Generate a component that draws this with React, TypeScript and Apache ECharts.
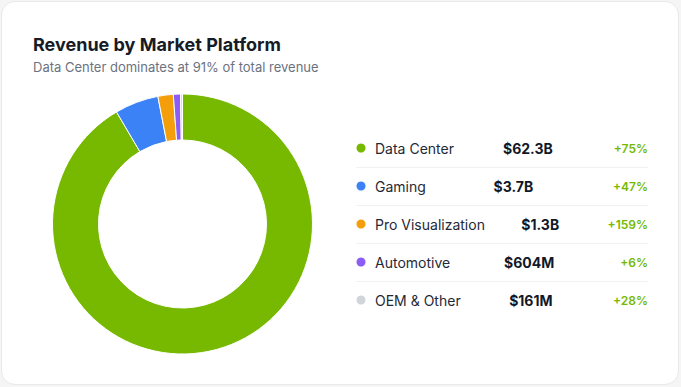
import React, { useEffect, useRef } from "react";
import * as echarts from "echarts";

const categories = ["Data Center", "Gaming", "Pro Visualization", "Automotive", "OEM & Other"];
const revenueB = [62.3, 3.7, 1.3, 0.604, 0.161];
const revenueLabels = ["$62.3B", "$3.7B", "$1.3B", "$604M", "$161M"];
const growthLabels = ["+75%", "+47%", "+159%", "+6%", "+28%"];
const sliceColors = ["#76b900", "#3b82f6", "#f59e0b", "#8b5cf6", "#d1d5db"];

const TITLE = "Revenue by Market Platform";
const SUBTITLE = "Data Center dominates at 91% of total revenue";
const FONT = "Inter, 'Noto Sans', sans-serif";

function measure(text: string, font: string): number {
  const c = document.createElement("canvas");
  const ctx = c.getContext("2d");
  if (!ctx) return text.length * 7;
  ctx.font = font;
  return ctx.measureText(text).width;
}

export default function App() {
  const ref = useRef<HTMLDivElement>(null);

  useEffect(() => {
    document.body.style.margin = "0";
    if (!ref.current) return;
    const chart = echarts.init(ref.current, undefined, { renderer: "svg" });

    const rowX0 = 356;
    const rowX1 = 648;
    const rowY0 = 148;
    const rowStep = 38;
    const labelX = 375;

    const graphics: any[] = [
      {
        type: "text",
        x: 33,
        y: 44,
        style: {
          text: TITLE,
          fontFamily: FONT,
          fontSize: 18,
          fontWeight: 700,
          fill: "#161b26",
          textAlign: "left",
          textVerticalAlign: "middle",
        },
      },
      {
        type: "text",
        x: 33,
        y: 66.5,
        style: {
          text: SUBTITLE,
          fontFamily: FONT,
          fontSize: 13,
          fill: "#6b7280",
          textAlign: "left",
          textVerticalAlign: "middle",
        },
      },
    ];

    categories.forEach((name, i) => {
      const y = rowY0 + i * rowStep;
      const labelW = measure(name, `400 14px ${FONT}`);
      const pctW = measure(growthLabels[i], `600 12px ${FONT}`);
      const labelEnd = labelX + labelW;
      const pctStart = rowX1 - pctW;
      const valueCenter = (labelEnd + pctStart) / 2 - 6;
      graphics.push(
        {
          type: "circle",
          shape: { cx: 361, cy: y, r: 4.5 },
          style: { fill: sliceColors[i] },
        },
        {
          type: "text",
          x: labelX,
          y,
          style: {
            text: name,
            fontFamily: FONT,
            fontSize: 14,
            fill: "#1f2937",
            textAlign: "left",
            textVerticalAlign: "middle",
          },
        },
        {
          type: "text",
          x: valueCenter,
          y,
          style: {
            text: revenueLabels[i],
            fontFamily: FONT,
            fontSize: 14,
            fontWeight: 700,
            fill: "#111827",
            textAlign: "center",
            textVerticalAlign: "middle",
          },
        },
        {
          type: "text",
          x: rowX1,
          y,
          style: {
            text: growthLabels[i],
            fontFamily: FONT,
            fontSize: 12,
            fontWeight: 600,
            fill: "#76b900",
            textAlign: "right",
            textVerticalAlign: "middle",
          },
        }
      );
      if (i < categories.length - 1) {
        graphics.push({
          type: "line",
          shape: { x1: rowX0, y1: y + 19.5, x2: rowX1, y2: y + 19.5 },
          style: { stroke: "#f0f1f3", lineWidth: 1 },
        });
      }
    });

    chart.setOption({
      animation: false,
      graphic: graphics,
      series: [
        {
          type: "pie",
          center: [182.5, 224],
          radius: [84, 130],
          startAngle: 90,
          clockwise: true,
          silent: true,
          label: { show: false },
          labelLine: { show: false },
          itemStyle: { borderColor: "#ffffff", borderWidth: 1 },
          data: categories.map((name, i) => ({
            name,
            value: revenueB[i],
            itemStyle: { color: sliceColors[i] },
          })),
        },
      ],
    });

    return () => chart.dispose();
  }, []);

  return (
    <div style={{ position: "relative", width: 681, height: 387, background: "#f5f5f6", overflow: "hidden" }}>
      <div
        style={{
          position: "absolute",
          left: 1,
          top: 1,
          width: 678,
          height: 384,
          boxSizing: "border-box",
          background: "#ffffff",
          border: "1px solid #e8e9ec",
          borderRadius: 14,
        }}
      />
      <div ref={ref} style={{ position: "absolute", left: 0, top: 0, width: 681, height: 387 }} />
    </div>
  );
}
